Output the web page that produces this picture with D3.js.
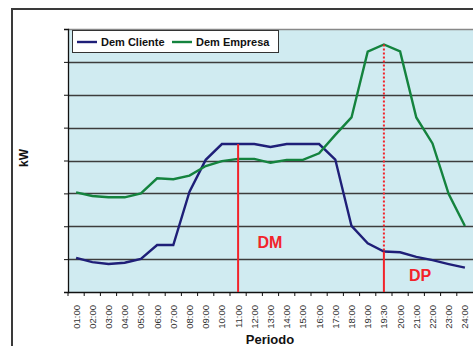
<!DOCTYPE html>
<html>
<head>
<meta charset="utf-8">
<script src="https://cdn.jsdelivr.net/npm/d3@7"></script>
<style>
  html, body { margin: 0; padding: 0; background: #fff; }
  svg { display: block; font-family: "Liberation Sans", Arial, sans-serif; }
</style>
</head>
<body>
<svg id="chart" width="473" height="346"></svg>
<script>
// Hourly load profile: customer demand vs. company demand
const periods = ["01:00","02:00","03:00","04:00","05:00","06:00","07:00","08:00","09:00","10:00",
  "11:00","12:00","13:00","14:00","15:00","16:00","17:00","18:00","19:00","19:30",
  "20:00","21:00","22:00","23:00","24:00"];
const demCliente = [1.04,0.91,0.85,0.89,1.01,1.43,1.43,3.05,4.02,4.50,
  4.50,4.50,4.41,4.50,4.50,4.50,4.03,2.01,1.48,1.23,
  1.21,1.07,0.97,0.85,0.74];
const demEmpresa = [3.03,2.92,2.88,2.88,3.00,3.46,3.43,3.54,3.83,3.98,
  4.05,4.05,3.93,4.02,4.02,4.22,4.78,5.31,7.31,7.53,
  7.32,5.31,4.52,2.98,2.01];
const yTicks = [0,1,2,3,4,5,6,7,8];
const seriesNames = ["Dem Cliente","Dem Empresa"];
const seriesColors = ["#1f1f78","#14833e"];
// Marker positions: DM at the midday customer peak, DP at the company peak
const markDM = "11:00";
const markDP = "19:30";

const svg = d3.select("#chart");
const W = 473, H = 346;
const m = { left: 68, top: 29, right: 473, bottom: 292 };

// outer chart frame
svg.append("rect").attr("x", 12).attr("y", 9).attr("width", 480).attr("height", 360)
  .attr("fill", "#fff").attr("stroke", "#3a3a3a").attr("stroke-width", 2);

const x = d3.scaleBand().domain(periods).range([m.left, m.right]);
const y = d3.scaleLinear().domain([0, 8]).range([m.bottom, m.top]);
const cx = d => x(d) + x.bandwidth() / 2;

// plot area
svg.append("rect").attr("x", m.left).attr("y", m.top)
  .attr("width", m.right - m.left + 5).attr("height", m.bottom - m.top)
  .attr("fill", "#d0ebf1");

// horizontal gridlines
svg.append("g").selectAll("line").data(yTicks.slice(1)).join("line")
  .attr("x1", m.left).attr("x2", W)
  .attr("y1", d => Math.round(y(d)) + 0.5).attr("y2", d => Math.round(y(d)) + 0.5)
  .attr("stroke", d => d === 8 ? "#888" : "#3c3c3c").attr("stroke-width", 1.3);

// left axis (tick marks only)
const yAxis = d3.axisLeft(y).tickValues(yTicks).tickSize(4).tickFormat("");
svg.append("g").attr("transform", `translate(${m.left},0)`).call(yAxis)
  .call(g => g.select(".domain").attr("stroke", "#111").attr("stroke-width", 1.3))
  .call(g => g.selectAll(".tick line").attr("stroke", "#111"));

// bottom axis: ticks between categories, rotated labels
const xg = svg.append("g").attr("transform", `translate(0,${m.bottom})`);
xg.append("line").attr("x1", m.left).attr("x2", W).attr("y1", 0.5).attr("y2", 0.5)
  .attr("stroke", "#111").attr("stroke-width", 1.3);
xg.selectAll("line.tk").data(periods).join("line").attr("class", "tk")
  .attr("x1", d => x(d)).attr("x2", d => x(d)).attr("y1", 0).attr("y2", 4)
  .attr("stroke", "#111");
xg.selectAll("text").data(periods).join("text")
  .attr("transform", d => `translate(${cx(d) + 3.5},13) rotate(-90)`)
  .attr("text-anchor", "end")
  .attr("font-size", 9.5).attr("fill", "#333")
  .text(d => d);

// series lines
const line = d3.line().x((d, i) => cx(periods[i])).y(d => y(d));
[demCliente, demEmpresa].forEach((s, k) => {
  svg.append("path").datum(s).attr("d", line)
    .attr("fill", "none").attr("stroke", seriesColors[k])
    .attr("stroke-width", 2.4).attr("stroke-linejoin", "miter");
});

// DM marker
const iDM = periods.indexOf(markDM);
svg.append("line").attr("x1", cx(markDM)).attr("x2", cx(markDM))
  .attr("y1", y(demCliente[iDM])).attr("y2", m.bottom)
  .attr("stroke", "#f2232a").attr("stroke-width", 2);
// DP marker: dotted from company peak to customer curve, solid below
const iDP = periods.indexOf(markDP);
svg.append("line").attr("x1", cx(markDP)).attr("x2", cx(markDP))
  .attr("y1", y(demEmpresa[iDP])).attr("y2", y(demCliente[iDP]))
  .attr("stroke", "#f2232a").attr("stroke-width", 2).attr("stroke-dasharray", "2,2");
svg.append("line").attr("x1", cx(markDP)).attr("x2", cx(markDP))
  .attr("y1", y(demCliente[iDP])).attr("y2", m.bottom)
  .attr("stroke", "#f2232a").attr("stroke-width", 2);

svg.append("text").attr("x", 270).attr("y", 248).attr("text-anchor", "middle")
  .attr("font-size", 16).attr("font-weight", "bold").attr("fill", "#f2232a").text("DM");
svg.append("text").attr("x", 420).attr("y", 281).attr("text-anchor", "middle")
  .attr("font-size", 16).attr("font-weight", "bold").attr("fill", "#f2232a").text("DP");

// legend
const lg = svg.append("g");
lg.append("rect").attr("x", 72.5).attr("y", 30.5).attr("width", 206).attr("height", 22)
  .attr("fill", "#fff").attr("stroke", "#333").attr("stroke-width", 1);
const legX = [77, 172];
seriesNames.forEach((n, k) => {
  lg.append("line").attr("x1", legX[k]).attr("x2", legX[k] + 20).attr("y1", 42).attr("y2", 42)
    .attr("stroke", seriesColors[k]).attr("stroke-width", 2.4);
  lg.append("text").attr("x", legX[k] + 24).attr("y", 46)
    .attr("font-size", 11).attr("font-weight", "bold").attr("fill", "#111").text(n);
});

// axis titles
svg.append("text").attr("transform", "translate(28,158) rotate(-90)").attr("text-anchor", "middle")
  .attr("font-size", 12).attr("font-weight", "bold").attr("fill", "#111").text("kW");
svg.append("text").attr("x", 270).attr("y", 344).attr("text-anchor", "middle")
  .attr("font-size", 13).attr("font-weight", "bold").attr("fill", "#111").text("Periodo");
</script>
</body>
</html>
